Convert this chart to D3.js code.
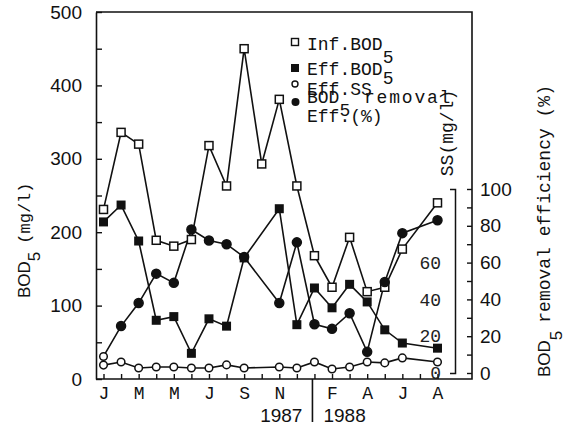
<!DOCTYPE html>
<html><head><meta charset="utf-8">
<script src="https://cdn.jsdelivr.net/npm/d3@7"></script>
<style>
body{margin:0;background:#fff}
.mono{font-family:"Liberation Mono","Courier New",monospace}
.sans{font-family:"Liberation Sans",Arial,sans-serif}
</style>
</head><body>
<svg id="c" width="568" height="425"></svg>
<script>
// ---- data (monthly, Jan 1987 .. Aug 1988) ----
const months = ["1987-01","1987-02","1987-03","1987-04","1987-05","1987-06","1987-07","1987-08","1987-09","1987-10","1987-11","1987-12",
                "1988-01","1988-02","1988-03","1988-04","1988-05","1988-06","1988-07","1988-08"];
const monthLabels = ["J","","M","","M","","J","","S","","N","","","F","","A","","J","","A"];
const infBOD  = [231,336,320,189,181,190,318,263,450,293,381,263,168,125,193,119,125,177,null,240];
const effBOD  = [214,237,188,80,85,35,82,72,165,null,232,74,124,97,129,105,67,49,null,42];
const effSS   = [4.3,6,2.7,3.3,3.3,2.7,2.7,4.4,2.7,null,3.3,2.7,6,2.2,3.3,6,5.5,8.2,null,6];
const removal = [9,25.5,38,54,49,78,72,70,63,null,38,71,26.5,24,32.5,11.5,49.5,76,null,83];
const leftTicks  = [0,50,100,150,200,250,300,350,400,450,500];
const rightTicks = [0,10,20,30,40,50,60,70,80,90,100];
const ssTicks    = [0,20,40,60];
const yearLabels = ["1987","1988"];

// ---- layout ----
const L = 96, R = 472, T = 12, B = 379;
const svg = d3.select("#c");
const x  = d3.scaleLinear().domain([0, months.length - 1]).range([103.5, 437.5]);
const yL = d3.scaleLinear().domain([0, 500]).range([B, T]);
const yR = d3.scaleLinear().domain([0, 100]).range([373, 189]);

// frame
svg.append("path").attr("d", `M${L},${T}H${R}V${B}H${L}`)
  .attr("fill","none").attr("stroke","#111").attr("stroke-width",1.6);

// left axis
const gL = svg.append("g").attr("transform",`translate(${L},0)`)
  .call(d3.axisLeft(yL).tickValues(leftTicks).tickSizeInner(-6).tickSizeOuter(0)
        .tickPadding(14).tickFormat(d => d % 100 === 0 ? d : ""));
gL.select(".domain").attr("stroke","#111").attr("stroke-width",1.6);
gL.selectAll("line").attr("stroke","#111").attr("stroke-width",1.4);
gL.selectAll("text").attr("class","sans").attr("font-size",19).attr("fill","#111");

// bottom axis
const gB = svg.append("g").attr("transform",`translate(0,${B})`)
  .call(d3.axisBottom(x).tickValues(d3.range(months.length)).tickSizeInner(-5).tickSizeOuter(0)
        .tickPadding(7).tickFormat(i => monthLabels[i]));
gB.select(".domain").remove();
gB.selectAll("line").attr("stroke","#111").attr("stroke-width",1.4);
gB.selectAll("text").attr("class","mono").attr("font-size",18).attr("fill","#111");

// year separator & labels
const sepX = x(12) - 2;
svg.append("line").attr("x1",sepX).attr("x2",sepX).attr("y1",B).attr("y2",422)
  .attr("stroke","#111").attr("stroke-width",1.6);
svg.append("text").attr("class","sans").attr("font-size",19).attr("fill","#111")
  .attr("x",sepX-10).attr("y",422).attr("text-anchor","end").text(yearLabels[0]);
svg.append("text").attr("class","sans").attr("font-size",19).attr("fill","#111")
  .attr("x",sepX+11).attr("y",422).attr("text-anchor","start").text(yearLabels[1]);

// right axis (removal efficiency)
const gR = svg.append("g").attr("transform",`translate(${R},0)`)
  .call(d3.axisRight(yR).tickValues(rightTicks).tickSizeInner(-5).tickSizeOuter(0)
        .tickPadding(8).tickFormat(d => d % 20 === 0 ? d : ""));
gR.select(".domain").remove();
gR.selectAll("line").attr("stroke","#111").attr("stroke-width",1.4);
gR.selectAll("text").attr("class","sans").attr("font-size",19).attr("fill","#111");

// inner SS axis
const gS = svg.append("g").attr("transform",`translate(455,0)`)
  .call(d3.axisLeft(yR).tickValues(ssTicks).tickSizeInner(0).tickSizeOuter(5).tickPadding(14));
gS.select(".domain").attr("stroke","#111").attr("stroke-width",1.5);
gS.selectAll("text").attr("class","mono").attr("font-size",18).attr("fill","#222");

// ---- series ----
const pts = vals => vals.map((v,i) => ({i, v})).filter(d => d.v != null);
function drawLine(vals, scale){
  svg.append("path").datum(pts(vals))
    .attr("d", d3.line().x(d => x(d.i)).y(d => scale(d.v)))
    .attr("fill","none").attr("stroke","#111").attr("stroke-width",1.6);
}
drawLine(infBOD, yL);
drawLine(effBOD, yL);
drawLine(effSS, yR);
drawLine(removal, yR);

// markers
svg.append("g").selectAll("rect").data(pts(infBOD)).join("rect")
  .attr("x", d => x(d.i) - 4).attr("y", d => yL(d.v) - 4).attr("width",8).attr("height",8)
  .attr("fill","#fff").attr("stroke","#111").attr("stroke-width",1.5);
svg.append("g").selectAll("rect").data(pts(effBOD)).join("rect")
  .attr("x", d => x(d.i) - 4.5).attr("y", d => yL(d.v) - 4.5).attr("width",9).attr("height",9)
  .attr("fill","#111");
svg.append("g").selectAll("circle").data(pts(effSS)).join("circle")
  .attr("cx", d => x(d.i)).attr("cy", d => yR(d.v)).attr("r",3.8)
  .attr("fill","#fff").attr("stroke","#111").attr("stroke-width",1.5);
svg.append("g").selectAll("circle").data(pts(removal)).join("circle")
  .attr("cx", d => x(d.i)).attr("cy", d => yR(d.v)).attr("r", d => d.i === 0 ? 3.8 : 4.5)
  .attr("fill", d => d.i === 0 ? "#fff" : "#111").attr("stroke","#111").attr("stroke-width",1.5);

// ---- legend ----
const lg = svg.append("g");
lg.append("rect").attr("x",291.5).attr("y",38.5).attr("width",7).attr("height",7)
  .attr("fill","#fff").attr("stroke","#111").attr("stroke-width",1.4);
lg.append("rect").attr("x",291).attr("y",64).attr("width",8).attr("height",8).attr("fill","#111");
lg.append("circle").attr("cx",295).attr("cy",84).attr("r",3).attr("fill","#fff").attr("stroke","#111").attr("stroke-width",1.4);
lg.append("circle").attr("cx",295.5).attr("cy",102).attr("r",4).attr("fill","#111");

function legendText(y, parts){
  const t = lg.append("text").attr("class","mono").attr("font-size",18).attr("fill","#111")
    .attr("x",307).attr("y",y);
  parts.forEach(p => {
    const s = t.append("tspan").text(p.t);
    if (p.dy) s.attr("dy", p.dy);
    if (p.x) s.attr("x", p.x);
    if (p.ls) s.attr("letter-spacing", p.ls);
  });
}
legendText(50,  [{t:"Inf.BOD"},{t:"5",dy:13}]);
legendText(75,  [{t:"Eff.BOD"},{t:"5",dy:9}]);
legendText(95,  [{t:"Eff.SS"}]);
legendText(103, [{t:"BOD"},{t:"5",dy:13},{t:"removal",dy:-13,x:364,ls:1.8}]);
legendText(122, [{t:"Eff.(%)"}]);

// ---- axis titles ----
const tl = svg.append("text").attr("transform","translate(30,298) rotate(-90)").attr("fill","#111");
tl.append("tspan").attr("class","sans").attr("font-size",17).text("BOD");
tl.append("tspan").attr("class","sans").attr("font-size",17).attr("dy",10).text("5");
tl.append("tspan").attr("class","mono").attr("font-size",17).attr("dy",-10).attr("dx",8).text("(mg/l)");

svg.append("text").attr("class","mono").attr("font-size",18).attr("fill","#111")
  .attr("transform","translate(453,133) rotate(-90)").attr("text-anchor","middle").text("SS(mg/l)");

const tr = svg.append("text").attr("transform","translate(550,377) rotate(-90)").attr("fill","#111");
tr.append("tspan").attr("class","sans").attr("font-size",17).text("BOD");
tr.append("tspan").attr("class","sans").attr("font-size",17).attr("dy",12).text("5");
tr.append("tspan").attr("class","mono").attr("font-size",18).attr("dy",-12).attr("dx",8).text("removal efficiency (%)");
</script>
</body></html>
